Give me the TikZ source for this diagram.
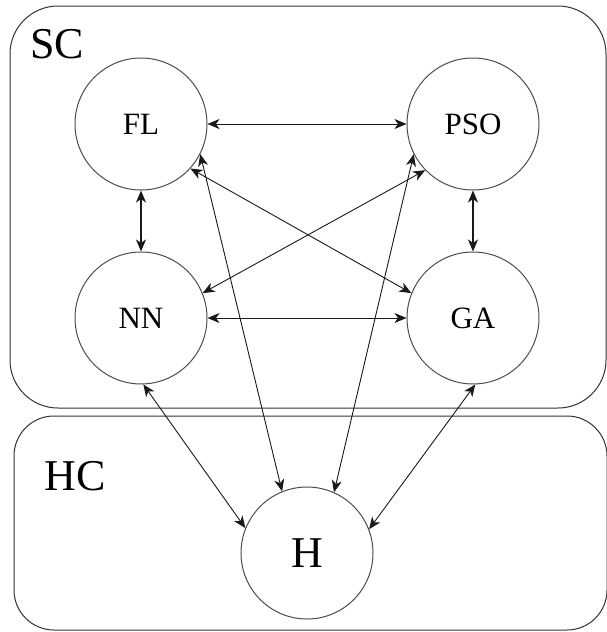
\documentclass[tikz,border=0pt]{standalone}
\usepackage{fontspec}
\setmainfont{Liberation Serif}
\usetikzlibrary{arrows.meta}
\begin{document}
\begin{tikzpicture}[x=1pt,y=-1pt,
  method/.style={circle, draw=black!70, line width=1pt, minimum size=132pt,
    inner sep=0pt, font=\fontsize{31}{31}\selectfont},
  group/.style={draw=black!80, line width=1pt, rounded corners=48pt},
  biglabel/.style={font=\fontsize{44}{44}\selectfont, inner sep=0pt},
  link/.style={draw=black!90, line width=0.9pt,
    {Stealth[length=12pt,width=10pt,inset=3.5pt]}-{Stealth[length=12pt,width=10pt,inset=3.5pt]}},
  thicklink/.style={link, line width=1.8pt}]
  \useasboundingbox (0,0) rectangle (607,632);

  % soft computing and hard computing regions
  \draw[group] (10,6) rectangle (606,408);
  \draw[group, rounded corners=40pt] (14,416) rectangle (607,630);
  \node[biglabel] (sc) at (57,44) {SC};
  \node[biglabel] (hc) at (75,476) {HC};

  % techniques
  \node[method] (fl)  at (141,124) {FL};
  \node[method] (pso) at (473,124) {PSO};
  \node[method] (nn)  at (141,318) {NN};
  \node[method] (ga)  at (473,318) {GA};
  \node[method, font=\fontsize{44}{44}\selectfont] (h) at (307,553) {H};

  % links inside SC
  \draw[link] (fl.east) -- (pso.west);
  \draw[link] (nn.east) -- (ga.west);
  \draw[thicklink] (fl.south) -- (nn.north);
  \draw[thicklink] (pso.south) -- (ga.north);
  \draw[link] (fl.-42) -- (ga.158);
  \draw[link] (pso.-136) -- (nn.22);

  % links to H
  \draw[link] (fl.-27) -- (h.112);
  \draw[link] (pso.-153) -- (h.66);
  \draw[link] (nn.-88) -- (h.158);
  \draw[link] (ga.-88) -- (h.21);
\end{tikzpicture}
\end{document}
